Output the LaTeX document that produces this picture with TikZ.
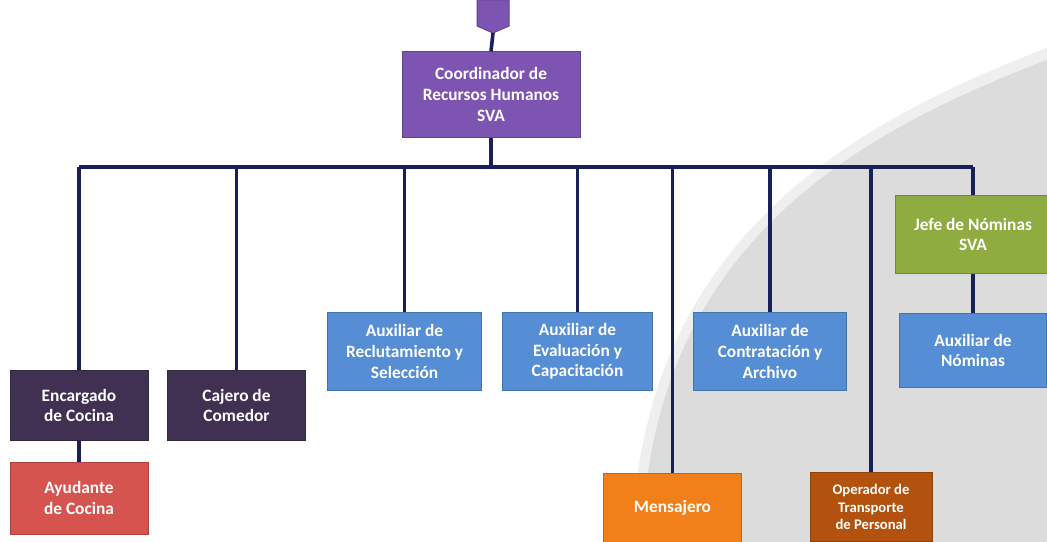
\documentclass[tikz,border=0pt]{standalone}
\usepackage{fontspec}
\setmainfont{Carlito}
\definecolor{linenavy}{RGB}{25,32,88}
\definecolor{cpurple}{RGB}{125,84,178}
\definecolor{cdark}{RGB}{64,49,82}
\definecolor{cred}{RGB}{214,84,80}
\definecolor{cblue}{RGB}{85,142,212}
\definecolor{corange}{RGB}{242,128,24}
\definecolor{cbrown}{RGB}{178,82,14}
\definecolor{cgreen}{RGB}{142,172,64}
\definecolor{bggray}{RGB}{220,220,220}
\tikzset{every picture/.style={line width=0.75pt}}
\tikzset{
  orgbox/.style={draw=#1!80!black, fill=#1, text=white, font=\bfseries\fontsize{13}{15.5}\selectfont,
    align=center, inner sep=0.75pt, minimum height=54pt},
  link/.style={draw=linenavy, line width=2.7pt}
}
\begin{document}
\begin{tikzpicture}[x=0.75pt,y=0.75pt,yscale=-1,xscale=1]
\useasboundingbox (0,0) rectangle (1047,542);
%Shape: Background [id:bg]
\fill[bggray!45] (1047,48) .. controls (845,125) and (640,245) .. (632,542) -- (1047,542) -- cycle ;
\fill[bggray] (1047,60) .. controls (850,135) and (650,250) .. (642,542) -- (1047,542) -- cycle ;
%Shape: Pentagon [id:dp_top]
\draw[draw=cpurple!80!black, fill=cpurple] (477,0) -- (509,0) -- (509,26) -- (493,33) -- (477,26) -- cycle ;
\coordinate (tip) at (493,33) ;
% Text Node
\node (coord) [orgbox=cpurple, minimum width=133.5pt, minimum height=64pt] at (491,94.5) {Coordinador de\\Recursos Humanos\\SVA};
% Text Node
\node (enc) [orgbox=cdark, minimum width=103.5pt, minimum height=53pt] at (79,405.5) {Encargado\\de Cocina};
% Text Node
\node (caj) [orgbox=cdark, minimum width=103pt, minimum height=53pt] at (236.5,405.5) {Cajero de\\Comedor};
% Text Node
\node (ayu) [orgbox=cred, minimum width=103.5pt, minimum height=54pt] at (79,498) {Ayudante\\de Cocina};
% Text Node
\node (rec) [orgbox=cblue, minimum width=116pt, minimum height=58pt] at (404.5,351.5) {Auxiliar de\\Reclutamiento y\\Selección};
% Text Node
\node (eva) [orgbox=cblue, minimum width=113pt, minimum height=58pt] at (577.5,351.5) {Auxiliar de\\Evaluación y\\Capacitación};
% Text Node
\node (con) [orgbox=cblue, minimum width=115pt, minimum height=58pt] at (770,351.5) {Auxiliar de\\Contratación y\\Archivo};
% Text Node
\node (men) [orgbox=corange, minimum width=104pt, minimum height=52pt] at (672.5,508) {Mensajero};
% Text Node
\node (ope) [orgbox=cbrown, minimum width=91.5pt, minimum height=52pt, font=\bfseries\fontsize{11}{13}\selectfont] at (871,507) {Operador de\\Transporte\\de Personal};
% Text Node
\node (jef) [orgbox=cgreen, minimum width=116pt, minimum height=58pt] at (973,234.5) {Jefe de Nóminas\\SVA};
% Text Node
\node (nom) [orgbox=cblue, minimum width=110pt, minimum height=56pt] at (973,350.5) {Auxiliar de\\Nóminas};
%Straight Lines [id:bus]
\coordinate (busL) at (79,167) ;
\coordinate (busR) at (973,167) ;
\draw[link] (busL) -- (busR) ;
\draw[link] (tip) -- (coord.north) ;
\draw[link] (coord.south) -- (coord.south |- busL) ;
\foreach \n in {enc,caj,rec,eva,men,con,ope,jef}
  \draw[link] (\n.north |- busL) -- (\n.north) ;
\draw[link] (enc.south) -- (ayu.north) ;
\draw[link] (jef.south) -- (nom.north) ;
\end{tikzpicture}
\end{document}
